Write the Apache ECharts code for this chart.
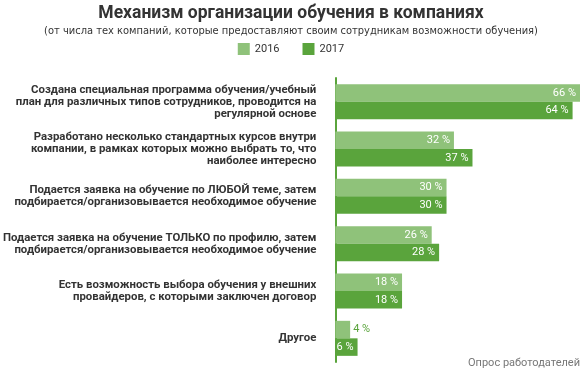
<!DOCTYPE html>
<html><head><meta charset="utf-8">
<script src="https://cdn.jsdelivr.net/npm/echarts@6/dist/echarts.min.js"></script>
<style>html,body{margin:0;padding:0;background:#fff}#c{width:582px;height:370px}</style>
</head><body><div id="c"></div>
<script>
var categories = [
  "Создана специальная программа обучения/учебный\nплан для различных типов сотрудников, проводится на\nрегулярной основе",
  "Разработано несколько стандартных курсов внутри\nкомпании, в рамках которых можно выбрать то, что\nнаиболее интересно",
  "Подается заявка на обучение по ЛЮБОЙ теме, затем\nподбирается/организовывается необходимое обучение",
  "Подается заявка на обучение ТОЛЬКО по профилю, затем\nподбирается/организовывается необходимое обучение",
  "Есть возможность выбора обучения у внешних\nпровайдеров, с которыми заключен договор",
  "Другое"
];
var values2016 = [66, 32, 30, 26, 18, 4];
var values2017 = [64, 37, 30, 28, 18, 6];
var seriesNames = ["2016", "2017"];

var chart = echarts.init(document.getElementById('c'), null, {renderer: 'canvas'});
var font = 'Roboto, "Noto Sans", sans-serif';
var narrow = '"Liberation Sans Narrow", "DejaVu Sans Condensed", Roboto, sans-serif';
function makeData(vals) {
  return vals.map(function (v) {
    var small = v < 5;
    return {
      value: v,
      label: small ? {position: 'right', color: '#5aa43c', distance: 3} : {}
    };
  });
}
var lbl = {show: true, position: 'insideRight', distance: 4, color: '#fff', fontSize: 11, fontFamily: font, formatter: '{c} %'};
chart.setOption({
  animation: false,
  title: [{
    text: 'Механизм организации обучения в компаниях',
    left: 'center', top: 0,
    textStyle: {fontSize: 17.5, fontWeight: 'bold', color: '#333', fontFamily: font}
  }, {
    text: '(от числа тех компаний, которые предоставляют своим сотрудникам возможности обучения)',
    left: 'center', top: 21,
    textStyle: {fontSize: 11, fontWeight: 'normal', color: '#333', fontFamily: narrow}
  }, {
    text: 'Опрос работодателей',
    right: 2, top: 358, padding: 0,
    textStyle: {fontSize: 11, fontWeight: 'normal', color: '#777', fontFamily: font}
  }],
  legend: {
    top: 38, left: 'center',
    itemWidth: 12, itemHeight: 12, itemGap: 23,
    icon: 'rect',
    textStyle: {fontSize: 11, color: '#333', fontFamily: font},
    data: seriesNames
  },
  grid: {left: 335, right: 2, top: 78, bottom: 8},
  xAxis: {type: 'value', min: 0, max: 66, show: false},
  yAxis: {
    type: 'category', inverse: true, data: categories,
    axisLine: {show: true, lineStyle: {color: '#5aa43c', width: 2}},
    axisTick: {show: false},
    axisLabel: {margin: 19, fontSize: 11.4, fontWeight: 'bold', lineHeight: 12, color: '#333', fontFamily: font, align: 'right'}
  },
  series: [{
    name: seriesNames[0], type: 'bar', data: makeData(values2016),
    itemStyle: {color: '#8fc27a'}, barGap: '0%', barCategoryGap: '26%', label: lbl
  }, {
    name: seriesNames[1], type: 'bar', data: makeData(values2017),
    itemStyle: {color: '#5aa43c'}, label: lbl
  }]
});
</script></body></html>
